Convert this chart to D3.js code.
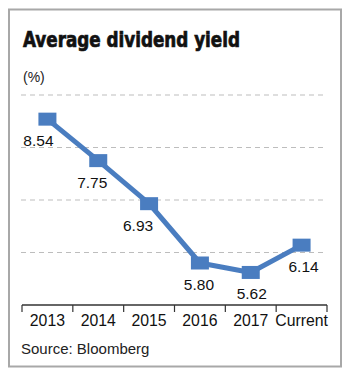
<!DOCTYPE html>
<html><head><meta charset="utf-8">
<script src="https://cdn.jsdelivr.net/npm/d3@7"></script>
<style>html,body{margin:0;padding:0;background:#fff;}</style>
</head><body>
<svg id="c" width="350" height="376"></svg>
<script>
const categories = ["2013","2014","2015","2016","2017","Current"];
const yieldValues = [8.54, 7.75, 6.93, 5.80, 5.62, 6.14];
const yTicks = [5, 6, 7, 8, 9];
const title = "Average dividend yield";
const unitLabel = "(%)";
const source = "Source: Bloomberg";

const svg = d3.select("#c");
const blue = "#4a7dc0";
const font = "'Liberation Sans', Arial, Helvetica, sans-serif";

svg.append("rect").attr("x",9).attr("y",9.5).attr("width",332).attr("height",357)
  .attr("fill","#fff").attr("stroke","#a8a8a8").attr("stroke-width",2);

svg.append("text").attr("x",23).attr("y",47).text(title)
  .attr("font-family","'Liberation Sans Narrow','DejaVu Sans Condensed',Arial,sans-serif")
  .attr("font-weight","bold").attr("font-size",21.5).attr("fill","#111")
  .attr("stroke","#111").attr("stroke-width",0.7)
  .attr("textLength",217).attr("lengthAdjust","spacingAndGlyphs");

svg.append("text").attr("x",23).attr("y",82).text(unitLabel)
  .attr("font-family",font).attr("font-size",14).attr("fill","#222");

const x = d3.scaleBand().domain(categories).range([22,327]);
const y = d3.scaleLinear().domain([5,9]).range([305,95]);

// gridlines
svg.append("g").selectAll("line").data(yTicks.filter(t=>t>5)).join("line")
  .attr("x1",21).attr("x2",327).attr("y1",d=>y(d)).attr("y2",d=>y(d))
  .attr("stroke","#bdbdbd").attr("stroke-width",1).attr("stroke-dasharray","5,4");

// x axis
const xAxis = d3.axisBottom(x).tickSize(0).tickPadding(0);
const gx = svg.append("g").attr("transform","translate(0,305)").call(xAxis);
gx.select(".domain").remove();
gx.selectAll("text").attr("dy",null).attr("y",21).attr("font-family",font).attr("font-size",15.8).attr("fill","#111");
gx.selectAll(".tick line").remove();
svg.append("line").attr("x1",22).attr("x2",327).attr("y1",305).attr("y2",305).attr("stroke","#333").attr("stroke-width",1.5);
const edges = categories.map(c=>x(c)).concat([x(categories[categories.length-1])+x.bandwidth()]);
svg.append("g").selectAll("line").data(edges).join("line")
  .attr("x1",d=>d).attr("x2",d=>d).attr("y1",305).attr("y2",312)
  .attr("stroke","#333").attr("stroke-width",1.2);

const cx = d => x(d) + x.bandwidth()/2;
const line = d3.line().x((d,i)=>cx(categories[i])).y(d=>y(d));
svg.append("path").datum(yieldValues).attr("d",line).attr("fill","none")
  .attr("stroke",blue).attr("stroke-width",5).attr("stroke-linejoin","round");

svg.append("g").selectAll("rect").data(yieldValues).join("rect")
  .attr("x",(d,i)=>cx(categories[i])-9).attr("y",d=>y(d)-6.5)
  .attr("width",18).attr("height",13).attr("fill",blue);

const labelDx = [-9,-6,-11,-1,1,2];
svg.append("g").selectAll("text").data(yieldValues).join("text")
  .attr("x",(d,i)=>cx(categories[i])+labelDx[i]).attr("y",d=>y(d)+27)
  .attr("text-anchor","middle").attr("font-family",font).attr("font-size",15.5).attr("fill","#111")
  .text(d=>d.toFixed(2));

svg.append("text").attr("x",21).attr("y",354).text(source)
  .attr("font-family",font).attr("font-size",15).attr("fill","#222");
</script>
</body></html>
